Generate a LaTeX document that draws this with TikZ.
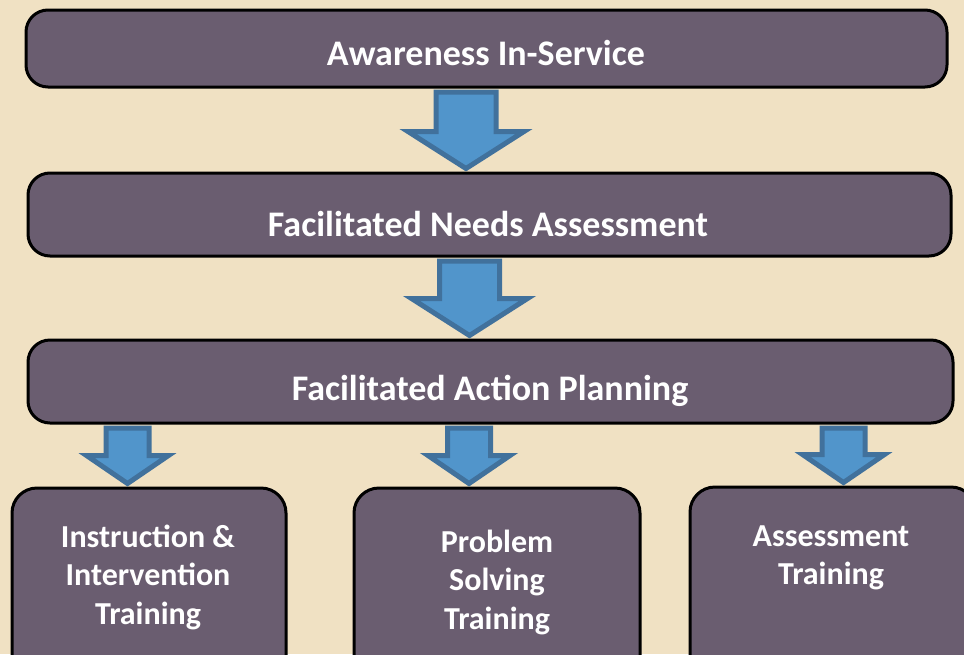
\documentclass[tikz,border=0pt]{standalone}
\usepackage{fontspec}
\setmainfont{Carlito}
\usetikzlibrary{calc}
\definecolor{bgc}{HTML}{F0E1C3}
\definecolor{boxc}{HTML}{6A5D70}
\definecolor{arrf}{HTML}{5195CB}
\definecolor{arrd}{HTML}{41719C}
\tikzset{
  box/.style={draw=black, line width=3pt, fill=boxc, rounded corners=22pt,
    rectangle, inner sep=0pt, outer sep=0pt},
  lbl/.style={text=white, font=\bfseries\fontsize{36}{40}\selectfont, align=center},
  slbl/.style={text=white, font=\bfseries\fontsize{32}{38.5}\selectfont, align=center},
  blockarr/.style={draw=arrd, fill=arrf, line width=5pt, line join=miter},
}
% #1 top node anchor, #2 tip node anchor, #3 centre x, #4 shaft half, #5 head half, #6 head length
\newcommand\blockdown[6]{%
  \path let \p1=(#1), \p2=(#2) in
    [blockarr] (#3pt-#4pt,\y1-5pt) -- (#3pt+#4pt,\y1-5pt) -- (#3pt+#4pt,\y2+4.5pt+#6pt)
    -- (#3pt+#5pt,\y2+4.5pt+#6pt) -- (#3pt,\y2+4.5pt) -- (#3pt-#5pt,\y2+4.5pt+#6pt)
    -- (#3pt-#4pt,\y2+4.5pt+#6pt) -- cycle;}
\begin{document}
\begin{tikzpicture}[x=1pt,y=-1pt]
\fill[bgc] (0,0) rectangle (964,654);
\useasboundingbox (0,0) rectangle (964,654);
\clip (0,0) rectangle (964,654);
\node[box, minimum width=921pt, minimum height=77pt] (b1) at (486.5,48.5) {};
\node[box, minimum width=923pt, minimum height=83pt] (b2) at (489.5,214.5) {};
\node[box, minimum width=925pt, minimum height=83pt] (b3) at (490.5,381.5) {};
\node[box, rounded corners=25pt, minimum width=274pt, minimum height=200pt, anchor=north west] (b4) at (12,488) {};
\node[box, rounded corners=25pt, minimum width=286pt, minimum height=200pt, anchor=north west] (b5) at (354,488) {};
\node[box, rounded corners=25pt, minimum width=286pt, minimum height=200pt, anchor=north west] (b6) at (690,487) {};
\node[lbl] (t1) at (486,53) {Awareness In-Service};
\node[lbl] (t2) at (488,224) {Facilitated Needs Assessment};
\node[lbl] (t3) at (490,391) {Facilitated Action Planning};
\node[slbl] (t4) at (148,577) {Instruction \&\\Intervention\\Training};
\node[slbl] (t5) at (497,582) {Problem\\Solving\\Training};
\node[slbl] (t6) at (831,558) {Assessment\\Training};
\blockdown{b1.south}{b2.north}{466}{30}{58}{37}
\blockdown{b2.south}{b3.north}{469.5}{30}{58}{37}
\blockdown{b3.south}{b4.north}{127.5}{21.5}{41}{28}
\blockdown{b3.south}{b5.north}{469}{21.5}{41}{28}
\blockdown{b3.south}{b6.north}{843.5}{21.5}{41}{28}
\end{tikzpicture}
\end{document}
